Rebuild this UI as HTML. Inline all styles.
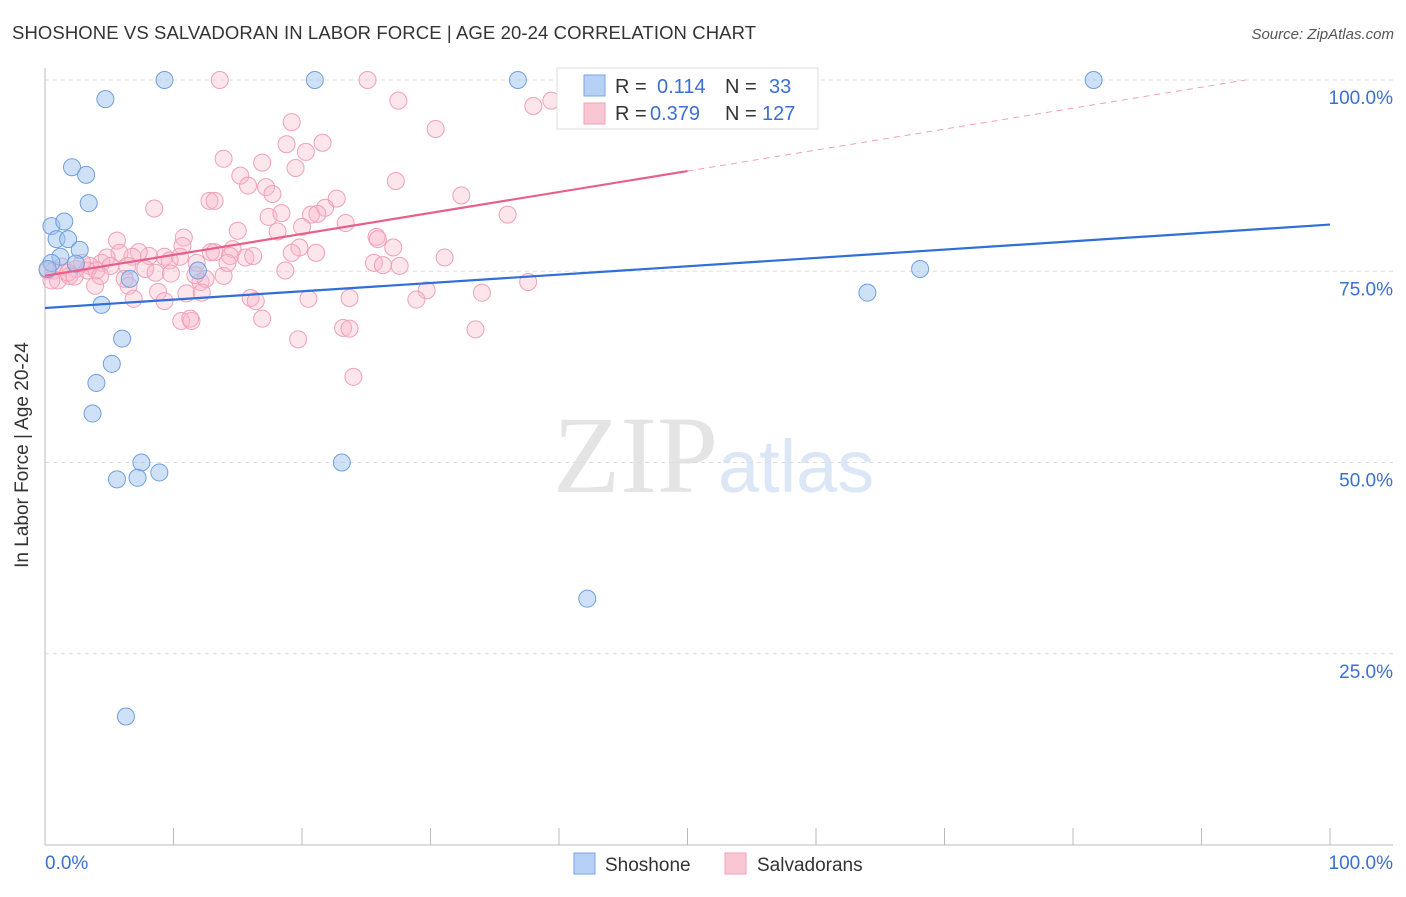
<!DOCTYPE html>
<html><head><meta charset="utf-8"><style>
body{margin:0;background:#fff;font-family:"Liberation Sans",sans-serif;}
svg text{font-family:"Liberation Sans",sans-serif;}
</style></head><body>
<svg id="chart" width="1406" height="892" viewBox="0 0 1406 892" xmlns="http://www.w3.org/2000/svg">
<text x="12" y="39" font-size="18.5" fill="#333" letter-spacing="0.1">SHOSHONE VS SALVADORAN IN LABOR FORCE | AGE 20-24 CORRELATION CHART</text>
<text x="1394" y="39" font-size="15" fill="#555" font-style="italic" text-anchor="end">Source: ZipAtlas.com</text>
<g>
<text x="553" y="492" font-size="110" fill="#e4e4e4" style="font-family:'Liberation Serif',serif">ZIP</text>
<text x="718" y="492" font-size="74" fill="#dbe6f6">atlas</text>
</g>
<g id="grid"></g>
<g id="axes"></g>
<g id="points"></g>
<g id="lines"></g>
<text transform="translate(28,455) rotate(-90)" font-size="19" fill="#333" text-anchor="middle">In Labor Force | Age 20-24</text>
<g>
<rect x="557" y="68" width="261" height="61" fill="#fff" stroke="#ddd"/>
<rect x="584" y="75" width="21" height="21" fill="#b7d0f5" stroke="#7aa6e6"/>
<rect x="584" y="103" width="21" height="21" fill="#f9c6d4" stroke="#f0a0b8"/>
<text x="615" y="93" font-size="20" fill="#333">R =</text><text x="657" y="93" font-size="20" fill="#3b6fd0">0.114</text>
<text x="725" y="93" font-size="20" fill="#333">N =</text><text x="769" y="93" font-size="20" fill="#3b6fd0">33</text>
<text x="615" y="120" font-size="20" fill="#333">R =</text><text x="650" y="120" font-size="20" fill="#3b6fd0">0.379</text>
<text x="725" y="120" font-size="20" fill="#333">N =</text><text x="762" y="120" font-size="20" fill="#3b6fd0">127</text>
</g>
<g>
<rect x="574" y="853" width="21" height="21" fill="#b7d0f5" stroke="#7aa6e6"/>
<text x="605" y="871" font-size="19" fill="#333">Shoshone</text>
<rect x="725" y="853" width="21" height="21" fill="#f9c6d4" stroke="#f0a0b8"/>
<text x="757" y="871" font-size="19" fill="#333">Salvadorans</text>
</g>
</svg>
<script>
const yTicks=[100,75,50,25];
const yTickLabels=["100.0%","75.0%","50.0%","25.0%"];
const xTickLabels=["0.0%","100.0%"];
const blueX=[0.5,1.5,0.9,1.8,2.1,3.2,3.4,4.7,9.3,21.0,36.8,81.6,2.7,1.2,2.4,0.5,0.2,11.9,6.6,4.4,6.0,5.2,4.0,3.7,7.5,8.9,5.6,7.2,23.1,6.3,42.2,64.0,68.1];
const blueY=[80.9,81.5,79.2,79.2,88.6,87.6,83.9,97.5,100,100,100,100,77.8,76.9,76.0,76.1,75.3,75.1,74.0,70.6,66.2,62.9,60.4,56.4,50.0,48.7,47.8,48.0,50.0,16.8,32.2,72.2,75.3];
const pinkX=[13.6,25.1,27.5,19.2,30.4,21.6,18.8,20.3,13.9,16.9,19.5,8.5,15.2,15.8,17.2,17.7,27.3,32.4,12.8,13.2,21.8,22.7,20.7,21.2,23.4,36.0,17.4,18.4,15.0,18.1,20.0,25.8,25.9,27.1,31.1,10.8,10.7,5.6,19.8,21.1,19.2,14.6,12.9,13.2,14.4,15.6,16.2,9.3,8.1,9.7,10.5,11.8,7.3,6.8,5.8,4.8,4.4,3.5,2.4,1.3,0.7,1.0,1.9,3.3,4.0,5.1,6.4,7.8,8.6,9.8,6.2,6.5,8.8,11.0,12.1,12.5,12.2,13.9,14.2,16.0,16.4,16.9,18.7,20.5,23.7,25.6,26.3,27.6,29.7,28.9,34.0,37.6,6.9,10.6,11.4,11.3,19.7,23.2,23.7,24.0,33.5,38.0,39.4,11.7,9.3,3.9,1.8,2.9,0.2,0.5,2.3,4.3];
const pinkY=[100,100,97.3,94.5,93.6,91.8,91.6,90.6,89.7,89.2,88.5,83.2,87.5,86.2,86.0,85.1,86.8,84.9,84.2,84.2,83.3,84.5,82.4,82.5,81.3,82.4,82.1,82.6,80.3,80.2,80.8,79.5,79.2,78.1,76.8,79.4,78.3,79.0,78.1,77.4,77.4,77.9,77.5,77.5,77.0,76.8,77.0,76.9,77.0,76.4,76.9,76.1,77.5,76.9,77.4,76.8,76.1,75.7,75.3,75.6,75.1,73.8,74.4,75.1,75.1,75.7,75.7,75.3,74.8,74.7,74.0,73.1,72.3,72.1,73.6,74.0,72.2,74.4,76.1,71.5,71.1,68.8,75.1,71.4,71.5,76.1,75.8,75.7,72.5,71.3,72.2,73.6,71.4,68.5,68.5,68.8,66.1,67.6,67.5,61.2,67.4,96.6,97.3,74.5,71.1,73.1,74.8,76.1,75.1,73.8,74.3,74.4];
const blueTrend=[70.2,81.1];
const pinkTrend=[74.4,101.8];
const X0=45,X1=1330,Y0=845,Y100=80;
const sx=v=>X0+(X1-X0)*v/100, sy=v=>Y0-(Y0-Y100)*v/100;
const NS="http://www.w3.org/2000/svg";
function mk(tag,attrs,parent){const e=document.createElementNS(NS,tag);for(const k in attrs)e.setAttribute(k,attrs[k]);document.getElementById(parent).appendChild(e);return e;}
yTicks.forEach((t,i)=>{
  const g=mk('line',{x1:45,x2:1393,y1:sy(t),y2:sy(t),stroke:'#ddd','stroke-dasharray':'4,4'},'grid');
  
  
  const l=mk('text',{x:1393,y:sy(t)+24,'font-size':19,fill:'#3b6fd0','text-anchor':'end'},'grid');
  l.textContent=yTickLabels[i];
  
  
});
const ax=mk('line',{x1:45,x2:1393,y1:845,y2:845,stroke:'#bbb'},'axes');


const ay=mk('line',{x1:45,x2:45,y1:68,y2:845,stroke:'#bbb'},'axes');


for(let i=1;i<=10;i++){
  const t=mk('line',{x1:sx(i*10),x2:sx(i*10),y1:828,y2:845,stroke:'#bbb'},'axes');
  
  
}
[[0,'start',45],[100,'end',1393]].forEach((d,i)=>{
  const t=mk('text',{x:d[2],y:869,'font-size':19,fill:'#3b6fd0','text-anchor':d[1]},'axes');
  t.textContent=xTickLabels[i];
  
  
});
pinkX.forEach((x,i)=>{
  const c=mk('circle',{cx:sx(x),cy:sy(pinkY[i]),r:8.5,fill:'rgba(248,180,200,0.35)',stroke:'#f0a0b8','stroke-width':1},'points');
  
  
});
blueX.forEach((x,i)=>{
  const c=mk('circle',{cx:sx(x),cy:sy(blueY[i]),r:8.5,fill:'rgba(160,196,240,0.5)',stroke:'#6f9fe0','stroke-width':1},'points');
  
  
});
const bl=mk('line',{x1:sx(0),y1:sy(blueTrend[0]),x2:sx(100),y2:sy(blueTrend[1]),stroke:'#2f6fd6','stroke-width':2.2},'lines');


const pAt=x=>pinkTrend[0]+(pinkTrend[1]-pinkTrend[0])*x/100;
const pl=mk('line',{x1:sx(0),y1:sy(pAt(0)),x2:sx(50),y2:sy(pAt(50)),stroke:'#e8608a','stroke-width':2.2},'lines');


const xEnd=(100-pinkTrend[0])/(pinkTrend[1]-pinkTrend[0])*100;
const pd=mk('line',{x1:sx(50),y1:sy(pAt(50)),x2:sx(xEnd),y2:sy(100),stroke:'#f0a0b8','stroke-width':1,'stroke-dasharray':'6,5'},'lines');


</script>
</body></html>
